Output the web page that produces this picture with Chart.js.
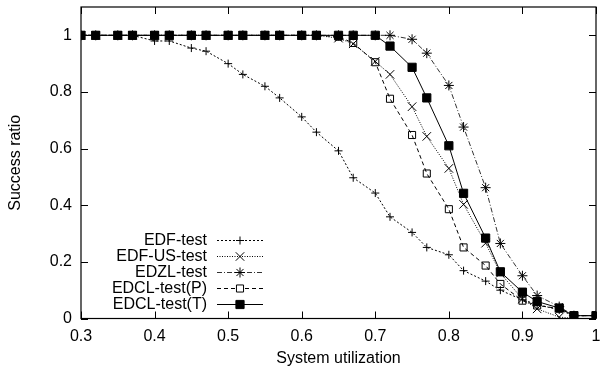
<!DOCTYPE html>
<html>
<head>
<meta charset="utf-8">
<script src="https://cdn.jsdelivr.net/npm/chart.js@4.4.1/dist/chart.umd.min.js"></script>
<style>
  html, body { margin: 0; padding: 0; background: #fff; }
  #wrap { width: 603px; height: 375px; }
</style>
</head>
<body>
<div id="wrap"><canvas id="chart" width="603" height="375"></canvas></div>
<script>
// values
const utilization = [0.3, 0.32, 0.35, 0.37, 0.4, 0.42, 0.45, 0.47, 0.5, 0.52, 0.55, 0.57, 0.6, 0.62,
  0.65, 0.67, 0.7, 0.72, 0.75, 0.77, 0.8, 0.82, 0.85, 0.87, 0.9, 0.92, 0.95, 0.97, 1.0];
const edfTest = [1, 1, 1, 1, 0.98, 0.98, 0.955, 0.944, 0.9, 0.862, 0.82, 0.779, 0.712, 0.658,
  0.592, 0.497, 0.443, 0.359, 0.304, 0.251, 0.225, 0.169, 0.132, 0.10, 0.066, 0.05, 0.03, 0.01, 0.01];
const edfUsTest = [1, 1, 1, 1, 1, 1, 1, 1, 1, 1, 1, 1, 1, 1,
  0.99, 0.97, 0.908, 0.862, 0.748, 0.643, 0.53, 0.403, 0.266, 0.16, 0.069, 0.034, 0.005, 0, 0];
const edzlTest = [1, 1, 1, 1, 1, 1, 1, 1, 1, 1, 1, 1, 1, 1,
  1, 1, 1, 1, 0.986, 0.937, 0.823, 0.676, 0.462, 0.265, 0.151, 0.081, 0.042, 0.01, 0.01];
const edclTestP = [1, 1, 1, 1, 1, 1, 1, 1, 1, 1, 1, 1, 1, 1,
  0.995, 0.973, 0.905, 0.776, 0.648, 0.512, 0.386, 0.251, 0.187, 0.122, 0.063, 0.046, 0.035, 0.01, 0.01];
const edclTestT = [1, 1, 1, 1, 1, 1, 1, 1, 1, 1, 1, 1, 1, 1,
  1, 1, 1, 0.962, 0.887, 0.779, 0.61, 0.442, 0.284, 0.165, 0.093, 0.06, 0.037, 0.01, 0.01];
const xTicks = [0.3, 0.4, 0.5, 0.6, 0.7, 0.8, 0.9, 1];
const yTicks = [0, 0.2, 0.4, 0.6, 0.8, 1];

const FONT = 'Liberation Sans, Arial, Helvetica, sans-serif';
const pts = vals => vals.map((v, i) => ({ x: utilization[i], y: v }));

const series = [
  { label: 'EDF-test', data: edfTest, dash: [2, 2], style: 'cross', r: 4, fill: 'rgba(0,0,0,0)', color: '#000', order: 5 },
  { label: 'EDF-US-test', data: edfUsTest, dash: [1, 1.5], style: 'crossRot', r: 6, fill: 'rgba(0,0,0,0)', color: '#000', order: 4 },
  { label: 'EDZL-test', data: edzlTest, dash: [5, 2, 1, 2], style: 'star', r: 5, fill: 'rgba(0,0,0,0)', color: '#333', order: 3 },
  { label: 'EDCL-test(P)', data: edclTestP, dash: [4, 3], style: 'rect', r: 5, fill: 'rgba(0,0,0,0)', color: '#000', order: 2 },
  { label: 'EDCL-test(T)', data: edclTestT, dash: [], style: 'rect', r: 5.8, fill: '#000', color: '#000', order: 1 },
];

// gnuplot-like frame with inward ticks on all four sides
const framePlugin = {
  id: 'frame',
  afterDraw(chart) {
    const { ctx, chartArea: a, scales } = chart;
    ctx.save();
    ctx.strokeStyle = '#000';
    ctx.lineWidth = 1.2;
    ctx.setLineDash([]);
    ctx.strokeRect(a.left, a.top, a.right - a.left, a.bottom - a.top);
    ctx.lineWidth = 1;
    ctx.beginPath();
    const len = 7;
    xTicks.forEach(v => {
      const x = Math.round(scales.x.getPixelForValue(v)) + 0.5;
      ctx.moveTo(x, a.bottom); ctx.lineTo(x, a.bottom - len);
      ctx.moveTo(x, a.top); ctx.lineTo(x, a.top + len);
    });
    yTicks.forEach(v => {
      const y = Math.round(scales.y.getPixelForValue(v)) + 0.5;
      ctx.moveTo(a.left, y); ctx.lineTo(a.left + len, y);
      ctx.moveTo(a.right, y); ctx.lineTo(a.right - len, y);
    });
    ctx.stroke();
    ctx.restore();
  }
};

// legend: right-aligned text followed by a line sample with its marker
const keyPlugin = {
  id: 'key',
  afterDraw(chart) {
    const { ctx } = chart;
    const textRight = 207, x0 = 217, x1 = 263, xm = 240;
    ctx.save();
    ctx.font = '16px ' + FONT;
    ctx.textAlign = 'right';
    ctx.textBaseline = 'middle';
    series.forEach((s, i) => {
      const y = 240 + i * 16;
      ctx.fillStyle = '#000';
      ctx.fillText(s.label, textRight, y + 1);
      ctx.strokeStyle = s.color;
      ctx.lineWidth = 1;
      ctx.setLineDash(s.dash);
      ctx.beginPath();
      ctx.moveTo(x0, y + 0.5); ctx.lineTo(x1, y + 0.5);
      ctx.stroke();
      ctx.setLineDash([]);
      if (Chart.helpers && Chart.helpers.drawPoint) {
        ctx.fillStyle = s.fill === '#000' ? '#000' : '#fff';
        ctx.strokeStyle = '#000';
        Chart.helpers.drawPoint(ctx, { pointStyle: s.style, radius: s.r, borderWidth: 1, rotation: 0 }, xm, y + 0.5);
      }
    });
    ctx.restore();
  }
};

new Chart(document.getElementById('chart'), {
  type: 'line',
  data: {
    datasets: series.map(s => ({
      label: s.label,
      data: pts(s.data),
      borderColor: s.color,
      borderWidth: 1,
      borderDash: s.dash,
      pointStyle: s.style,
      pointRadius: s.r,
      pointBorderColor: '#000',
      pointBorderWidth: 1,
      pointBackgroundColor: s.fill,
      tension: 0,
      fill: false,
      order: s.order,
    })),
  },
  options: {
    responsive: false,
    animation: false,
    layout: { padding: { top: 5, right: 4, left: 0, bottom: 0 } },
    plugins: { legend: { display: false }, tooltip: { enabled: false } },
    scales: {
      x: {
        type: 'linear', min: 0.3, max: 1,
        grid: { display: false, drawTicks: false }, border: { display: false },
        afterBuildTicks: s => { s.ticks = xTicks.map(v => ({ value: v })); },
        afterFit: s => { s.height = 56.5; s.paddingLeft = 0; s.paddingRight = 0; },
        ticks: { color: '#000', font: { family: FONT, size: 16 }, padding: 8, maxRotation: 0, callback: v => String(v) },
        title: { display: true, text: 'System utilization', color: '#000', font: { family: FONT, size: 16 }, padding: { top: 0, bottom: 7 } },
      },
      y: {
        min: 0, max: 1.1,
        grid: { display: false, drawTicks: false }, border: { display: false },
        afterBuildTicks: s => { s.ticks = yTicks.map(v => ({ value: v })); },
        afterFit: s => { s.width = 81; s.paddingTop = 0; s.paddingBottom = 0; },
        ticks: { color: '#000', font: { family: FONT, size: 16 }, padding: 9, callback: v => String(v) },
        title: { display: true, text: 'Success ratio', color: '#000', font: { family: FONT, size: 16 }, padding: { top: 5.5, bottom: 0 } },
      },
    },
  },
  plugins: [framePlugin, keyPlugin],
});
</script>
</body>
</html>
